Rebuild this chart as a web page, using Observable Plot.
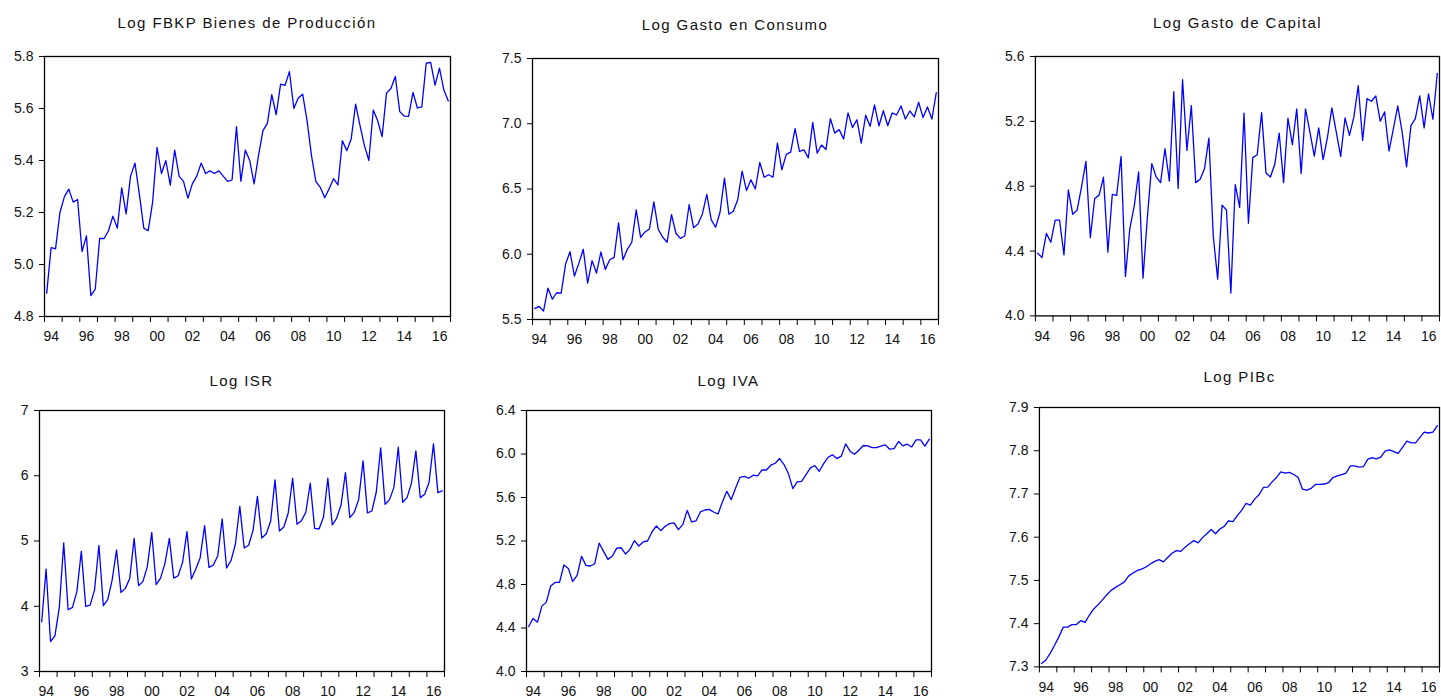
<!DOCTYPE html>
<html><head><meta charset="utf-8">
<script src="https://cdn.jsdelivr.net/npm/d3@7"></script>
<script src="https://cdn.jsdelivr.net/npm/@observablehq/plot@0.6"></script>
<style>
body{margin:0;background:#fff;width:1441px;height:698px;overflow:hidden;position:relative;font-family:"Liberation Sans",Arial,sans-serif;}
.panel{position:absolute;}
.title{position:absolute;font-size:15px;letter-spacing:1.4px;color:#111;white-space:nowrap;transform:translate(-50%,-50%);}
</style></head><body>
<script>
const startYear = 1994;
const endYear = 2017;
const yearTicks = d3.range(1994, 2018);
const labelYears = [1994,1996,1998,2000,2002,2004,2006,2008,2010,2012,2014,2016];

const fbkp = [4.89,5.065,5.06,5.20,5.26,5.29,5.24,5.25,5.05,5.11,4.88,4.905,
5.10,5.10,5.13,5.186,5.14,5.295,5.195,5.34,5.39,5.27,5.14,5.13,
5.24,5.45,5.35,5.40,5.305,5.44,5.34,5.32,5.255,5.31,5.34,5.39,
5.35,5.36,5.35,5.36,5.34,5.32,5.325,5.53,5.32,5.44,5.40,5.31,
5.42,5.515,5.543,5.653,5.576,5.694,5.689,5.742,5.60,5.64,5.655,5.553,
5.419,5.319,5.297,5.257,5.291,5.33,5.306,5.476,5.438,5.483,5.617,5.534,
5.457,5.40,5.594,5.553,5.492,5.659,5.677,5.723,5.588,5.571,5.570,5.662,
5.602,5.606,5.774,5.777,5.69,5.755,5.671,5.629];

const consumo = [5.584,5.60,5.564,5.741,5.656,5.705,5.702,5.925,6.02,5.833,5.93,6.038,
5.779,5.951,5.856,6.017,5.884,5.958,5.976,6.24,5.958,6.038,6.092,6.34,
6.13,6.171,6.194,6.401,6.191,6.13,6.092,6.304,6.161,6.122,6.14,6.381,
6.204,6.232,6.309,6.458,6.263,6.207,6.322,6.583,6.307,6.33,6.417,6.637,
6.488,6.57,6.50,6.704,6.59,6.609,6.59,6.852,6.647,6.765,6.783,6.962,
6.788,6.80,6.739,7.011,6.775,6.837,6.803,7.039,6.929,6.955,6.883,7.083,
6.97,7.031,6.852,7.065,6.98,7.144,6.983,7.10,6.985,7.083,7.067,7.136,
7.036,7.098,7.052,7.165,7.047,7.129,7.036,7.239];

const capital = [4.387,4.36,4.509,4.454,4.591,4.591,4.376,4.777,4.626,4.653,4.796,4.953,
4.483,4.724,4.745,4.855,4.393,4.749,4.743,4.984,4.243,4.54,4.677,4.888,
4.233,4.612,4.939,4.857,4.822,5.031,4.831,5.383,4.786,5.457,5.021,5.297,
4.822,4.843,4.908,5.097,4.489,4.227,4.683,4.653,4.141,4.81,4.669,5.25,
4.571,4.976,4.994,5.254,4.882,4.857,4.935,5.127,4.822,5.219,5.056,5.277,
4.878,5.277,5.134,4.986,5.16,4.964,5.103,5.283,5.134,4.984,5.221,5.113,
5.226,5.42,5.082,5.34,5.324,5.357,5.201,5.258,5.017,5.154,5.295,5.134,
4.919,5.174,5.217,5.357,5.16,5.369,5.213,5.495];

const isr = [3.762,4.57,3.46,3.547,3.982,4.969,3.946,3.982,4.228,4.841,3.997,4.018,
4.248,4.934,4.008,4.10,4.401,4.862,4.212,4.274,4.427,5.041,4.315,4.381,
4.611,5.133,4.33,4.432,4.657,5.041,4.432,4.468,4.673,5.143,4.417,4.57,
4.744,5.235,4.596,4.632,4.775,5.338,4.586,4.698,4.95,5.532,4.893,4.935,
5.159,5.685,5.046,5.107,5.302,5.936,5.153,5.215,5.43,5.962,5.256,5.312,
5.44,5.885,5.194,5.184,5.363,5.962,5.246,5.348,5.552,6.049,5.358,5.44,
5.634,6.228,5.43,5.46,5.747,6.427,5.563,5.634,5.818,6.437,5.593,5.665,
5.89,6.381,5.665,5.716,5.90,6.488,5.742,5.767];

const iva = [4.414,4.488,4.454,4.601,4.638,4.786,4.819,4.819,4.979,4.948,4.828,4.884,
5.059,4.976,4.97,4.991,5.181,5.105,5.031,5.062,5.135,5.138,5.08,5.123,
5.203,5.154,5.191,5.20,5.283,5.338,5.295,5.335,5.36,5.366,5.304,5.35,
5.482,5.375,5.384,5.467,5.485,5.491,5.467,5.448,5.559,5.657,5.58,5.688,
5.786,5.795,5.777,5.805,5.798,5.853,5.853,5.897,5.915,5.958,5.903,5.82,
5.682,5.743,5.749,5.811,5.872,5.894,5.841,5.912,5.97,5.992,5.958,5.98,
6.093,6.026,5.998,6.035,6.078,6.075,6.059,6.059,6.072,6.084,6.044,6.05,
6.115,6.075,6.09,6.065,6.13,6.13,6.072,6.136];

const pibc = [7.308,7.316,7.332,7.350,7.370,7.392,7.392,7.398,7.398,7.407,7.403,7.420,
7.434,7.444,7.455,7.467,7.477,7.484,7.490,7.496,7.510,7.517,7.523,7.526,
7.531,7.538,7.544,7.548,7.543,7.553,7.563,7.569,7.567,7.577,7.585,7.592,
7.587,7.599,7.608,7.618,7.608,7.619,7.625,7.638,7.636,7.65,7.662,7.678,
7.674,7.688,7.698,7.715,7.716,7.728,7.738,7.751,7.748,7.75,7.745,7.738,
7.711,7.709,7.713,7.722,7.722,7.723,7.726,7.738,7.742,7.745,7.748,7.765,
7.765,7.762,7.763,7.78,7.784,7.781,7.785,7.799,7.802,7.798,7.794,7.808,
7.822,7.818,7.818,7.831,7.843,7.841,7.843,7.858];

const titles = ["Log FBKP Bienes de Producción","Log Gasto en Consumo","Log Gasto de Capital","Log ISR","Log IVA","Log PIBc"];
const yTickSets = [
  [4.8,5.0,5.2,5.4,5.6,5.8],
  [5.5,6.0,6.5,7.0,7.5],
  [4.0,4.4,4.8,5.2,5.6],
  [3,4,5,6,7],
  [4.0,4.4,4.8,5.2,5.6,6.0,6.4],
  [7.3,7.4,7.5,7.6,7.7,7.8,7.9]
];
const yFormats = [".1f",".1f",".1f","d",".1f",".1f"];
const series = [fbkp, consumo, capital, isr, iva, pibc];

// layout: frame box [x0,x1,y0,y1] and title center y
const layout = [
  {f:[44,450,56,316], ty:22},
  {f:[532,938,58,319], ty:24},
  {f:[1035,1440,56,316], ty:22},
  {f:[39,444,410,671], ty:380},
  {f:[526,931,410,671], ty:380},
  {f:[1039,1440,407,667], ty:376}
];

const mL = 45, mR = 2, mT = 3, mB = 34;

series.forEach((vals, k) => {
  const data = vals.map((v, i) => ({t: startYear + (i + 0.5) / 4, v}));
  const [x0, x1, y0, y1] = layout[k].f;
  const yt = yTickSets[k];
  const plot = Plot.plot({
    width: (x1 - x0) + mL + mR,
    height: (y1 - y0) + mT + mB,
    marginLeft: mL, marginRight: mR, marginTop: mT, marginBottom: mB,
    style: {fontFamily: "'Liberation Sans', Arial, sans-serif", fontSize: "14px", color: "#111", background: "transparent", overflow: "visible"},
    x: {domain: [startYear, endYear]},
    y: {domain: [yt[0], yt[yt.length - 1]]},
    marks: [
      Plot.axisY(yt, {tickSize: 5, tickPadding: 6, tickFormat: d3.format(yFormats[k]), label: null, fontSize: 14, stroke: "#000"}),
      Plot.axisX(yearTicks, {tickSize: 6, tickFormat: () => "", label: null, stroke: "#000"}),
      Plot.axisX(labelYears, {tickSize: 0, tickPadding: 15, textAnchor: "start", dx: -1, tickFormat: d => String(d).slice(2), label: null, fontSize: 14}),
      Plot.line(data, {x: "t", y: "v", stroke: "#0000ff", strokeWidth: 1.3}),
      Plot.frame({stroke: "#000", strokeWidth: 1.3})
    ]
  });
  const div = document.createElement("div");
  div.className = "panel";
  div.style.left = (x0 - mL) + "px";
  div.style.top = (y0 - mT) + "px";
  div.appendChild(plot);
  document.body.appendChild(div);

  const t = document.createElement("div");
  t.className = "title";
  t.textContent = titles[k];
  t.style.left = ((x0 + x1) / 2) + "px";
  t.style.top = layout[k].ty + "px";
  document.body.appendChild(t);
});
</script>
</body></html>
